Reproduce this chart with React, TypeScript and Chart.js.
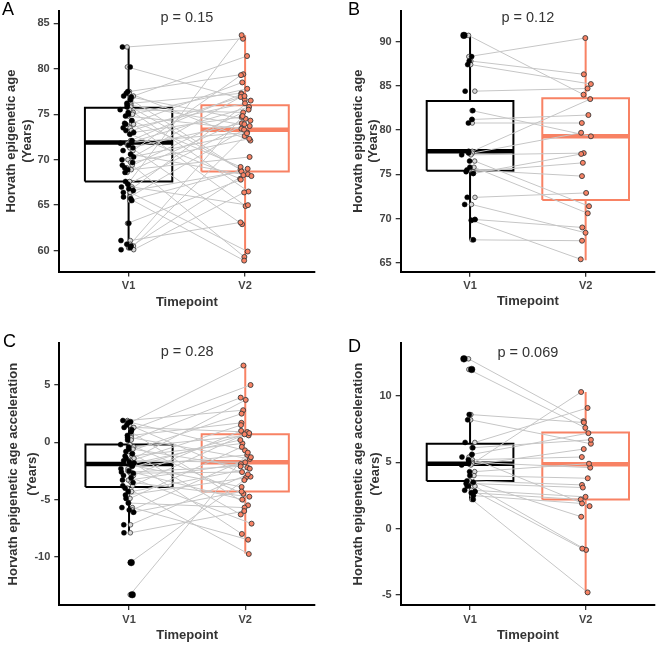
import React, { useEffect, useRef } from 'react';
import { Chart, registerables } from 'chart.js';
Chart.register(...registerables);

// ---------- data ----------
const categories = ['V1', 'V2'];
const pLabels = ['p = 0.15', 'p = 0.12', 'p = 0.28', 'p = 0.069'];
const panelLetters = ['A', 'B', 'C', 'D'];
const ageTitle = ['Horvath epigenetic age', '(Years)'];
const accelTitle = ['Horvath epigenetic age acceleration', '(Years)'];
const xTitle = 'Timepoint';

// Panel A: Horvath epigenetic age (paired V1 -> V2)
const aV1 = [82.4, 80.2, 77.5, 77.3, 77.0, 76.9, 76.6, 76.2, 76.0, 75.8, 75.5, 75.2, 75.0, 74.8, 74.3, 74.0, 73.9, 73.5, 73.0, 72.8, 72.1, 71.9, 71.8, 71.6, 71.3, 71.0, 70.6, 70.0, 69.7, 69.4, 69.1, 68.9, 68.6, 67.6, 67.3, 67.0, 66.8, 66.6, 66.4, 65.9, 65.7, 65.5, 63.0, 61.1, 60.7, 60.5, 60.3, 60.1, 73.2, 70.3];
const aV2 = [83.3, 76.6, 79.4, 72.1, 81.4, 74.3, 68.4, 77.3, 73.7, 68.9, 75.2, 66.5, 77.8, 73.4, 69.2, 78.5, 64.9, 76.2, 74.7, 67.9, 77.2, 73.0, 75.8, 62.9, 74.0, 79.3, 68.2, 76.9, 72.3, 59.3, 75.5, 70.3, 74.5, 83.7, 73.9, 65.0, 76.5, 68.7, 59.9, 73.3, 58.9, 69.0, 67.8, 63.1, 74.8, 72.6, 68.3, 66.4, 77.0, 72.9];
// box stats: [lower whisker, Q1, median, Q3, upper whisker]
const aBoxV1 = [60.1, 67.6, 71.9, 75.7, 82.4];
const aBoxV2 = [58.9, 68.7, 73.3, 76.0, 83.7];
const aTicks = [60, 65, 70, 75, 80, 85];
const aRange = [57.7, 86.4];

// Panel B
const bV1 = [90.7, 88.3, 87.8, 87.4, 84.4, 82.2, 81.2, 80.8, 77.6, 77.4, 77.2, 76.5, 75.8, 75.5, 75.1, 75.3, 72.4, 71.6, 69.9, 69.8, 67.6];
const bV2 = [84.0, 90.4, 86.3, 85.2, 84.7, 79.3, 81.7, 80.8, 83.5, 79.7, 77.4, 71.4, 70.6, 74.8, 77.3, 76.3, 72.9, 68.4, 69.0, 65.4, 67.5];
const bBoxV1 = [67.6, 75.4, 77.6, 83.3, 90.6];
const bBoxV2 = [65.3, 72.1, 79.3, 83.6, 90.3];
const bTicks = [65, 70, 75, 80, 85, 90];
const bRange = [64.0, 93.5];

// Panel C: age acceleration
const cV1 = [1.9, 1.8, 1.7, 1.5, 1.3, 1.1, 0.9, 0.6, 0.4, 0.2, -0.2, -0.4, -0.6, -0.8, -1.0, -1.2, -1.4, -1.6, -1.8, -1.9, -2.0, -2.1, -2.3, -2.5, -2.7, -2.9, -3.1, -3.3, -3.5, -3.8, -4.0, -4.3, -4.6, -4.9, -5.3, -5.7, -5.9, -6.1, -7.2, -7.9, -10.5, -13.3, -1.7, -2.6];
const cV2 = [2.8, -0.7, 6.7, -3.0, 0.9, 5.0, -5.5, 1.7, -1.45, 3.9, -4.5, 0.6, -2.2, 2.5, -6.3, -0.1, 3.7, -1.75, -8.0, 0.2, -3.9, -1.1, 0.8, -5.0, -2.6, 1.0, -7.1, -1.9, -4.75, 0.7, -9.75, -2.3, -3.1, -0.4, -5.7, -8.5, -1.3, -4.3, -2.8, -6.0, -3.3, -0.9, 1.5, -2.1];
const cBoxV1 = [-7.9, -3.9, -1.9, -0.2, 1.9];
const cBoxV2 = [-9.7, -4.3, -1.75, 0.7, 6.7];
const cTicks = [-10, -5, 0, 5];
const cRange = [-14.2, 8.64];

// Panel D
const dV1 = [12.8, 12.0, 8.6, 8.2, 6.5, 6.1, 5.6, 5.2, 5.0, 4.9, 4.8, 4.3, 4.0, 3.6, 3.5, 3.4, 3.2, 2.9, 2.8, 2.7, 2.5, 2.2, 5.4];
const dV2 = [8.1, 7.6, 8.0, 6.4, 9.1, 6.7, 7.2, 5.4, 4.6, 10.3, 6.0, 4.9, 3.8, 3.3, 0.9, 3.1, -1.6, 2.4, -1.5, 2.2, 1.9, -4.8, 1.7];
const dBoxV1 = [2.2, 3.6, 4.9, 6.4, 8.6];
const dBoxV2 = [-4.8, 2.2, 4.85, 7.25, 10.3];
const dTicks = [-5, 0, 5, 10];
const dRange = [-5.75, 13.97];

// ---------- styles / layout ----------
const FONT = '"Liberation Sans", Arial, Helvetica, sans-serif';
const SALMON = '#F88264';
const BOX_HALF = 0.375;

type Lay = {
  left: number; top: number; w: number; h: number;
  yW: number; padR: number; padT: number; xH: number;
  xTitlePad: number; yTitleLH: number; yTitlePad: number;
  letterX: number; letterY: number; pY: number;
};

const panels = [
  { v1: aV1, v2: aV2, box1: aBoxV1, box2: aBoxV2, ticks: aTicks, range: aRange, yTitle: ageTitle, p: pLabels[0], letter: panelLetters[0],
    L: { left: 0, top: 0, w: 330, h: 320, yW: 58.7, padR: 15, padT: 5, xH: 48.5, xTitlePad: 10.2, yTitleLH: 16, yTitlePad: 3.5, letterX: 2, letterY: 15, pY: 18 } as Lay },
  { v1: bV1, v2: bV2, box1: bBoxV1, box2: bBoxV2, ticks: bTicks, range: bRange, yTitle: ageTitle, p: pLabels[1], letter: panelLetters[1],
    L: { left: 330, top: 0, w: 330, h: 320, yW: 70.7, padR: 5, padT: 10, xH: 48.3, xTitlePad: 10.5, yTitleLH: 15, yTitlePad: 20.8, letterX: 18, letterY: 15, pY: 18.3 } as Lay },
  { v1: cV1, v2: cV2, box1: cBoxV1, box2: cBoxV2, ticks: cTicks, range: cRange, yTitle: accelTitle, p: pLabels[2], letter: panelLetters[2],
    L: { left: 0, top: 320, w: 330, h: 325, yW: 59.3, padR: 15, padT: 23.3, xH: 40, xTitlePad: 2.2, yTitleLH: 19, yTitlePad: 3.8, letterX: 3, letterY: 26.5, pY: 31.7 } as Lay },
  { v1: dV1, v2: dV2, box1: dBoxV1, box2: dBoxV2, ticks: dTicks, range: dRange, yTitle: accelTitle, p: pLabels[3], letter: panelLetters[3],
    L: { left: 330, top: 320, w: 330, h: 325, yW: 70.7, padR: 5, padT: 23.3, xH: 40, xTitlePad: 2.2, yTitleLH: 17, yTitlePad: 19.8, letterX: 18, letterY: 31.7, pY: 33 } as Lay },
];

// deterministic horizontal jitter (position only)
const hash = (i: number, s: number) => {
  const h = Math.sin(i * 12.9898 + s * 78.233) * 43758.5453;
  return h - Math.floor(h);
};
const blackJ = (i: number) => -0.075 + 0.12 * hash(i, 1);
const pairJ = (i: number) => -0.015 + 0.06 * hash(i, 2);
const v2J = (i: number) => -0.045 + 0.1 * hash(i, 3);

function boxSets(c: number, s: number[], color: string) {
  const [lo, q1, med, q3, hi] = s;
  const base = { showLine: true, pointRadius: 0, pointHoverRadius: 0, borderColor: color, fill: false, order: 6, borderJoinStyle: 'miter' as const };
  return [
    { ...base, borderWidth: 2, data: [{ x: c - BOX_HALF, y: q1 }, { x: c + BOX_HALF, y: q1 }, { x: c + BOX_HALF, y: q3 }, { x: c - BOX_HALF, y: q3 }, { x: c - BOX_HALF, y: q1 }] },
    { ...base, borderWidth: 4.5, data: [{ x: c - BOX_HALF, y: med }, { x: c + BOX_HALF, y: med }] },
    { ...base, borderWidth: 2, data: [{ x: c, y: lo }, { x: c, y: q1 }] },
    { ...base, borderWidth: 2, data: [{ x: c, y: q3 }, { x: c, y: hi }] },
  ];
}

function buildDatasets(p: typeof panels[number]) {
  const lineData: any[] = [];
  p.v1.forEach((a, i) => {
    lineData.push({ x: 1 + pairJ(i), y: a }, { x: 2 + v2J(i), y: p.v2[i] }, { x: 1.5, y: null });
  });
  const out1 = (v: number) => v < p.box1[0] - 0.05 || v > p.box1[4] + 0.05;
  return [
    ...boxSets(1, p.box1, '#000'),
    ...boxSets(2, p.box2, SALMON),
    { data: lineData, showLine: true, spanGaps: false, borderColor: '#C6C6C6', borderWidth: 1, pointRadius: 0, pointHoverRadius: 0, order: 4 },
    { data: p.v1.map((a, i) => ({ x: 1 + pairJ(i), y: a })), pointRadius: 2.3, backgroundColor: '#D8D8D8', borderColor: '#3a3a3a', borderWidth: 0.8, order: 3 },
    { data: p.v1.map((a, i) => ({ x: 1 + blackJ(i), y: a })), pointRadius: p.v1.map((a) => (out1(a) ? 3.3 : 2.5)), backgroundColor: '#000', borderColor: '#000', borderWidth: 0.5, order: 2 },
    { data: p.v2.map((b, i) => ({ x: 2 + v2J(i), y: b })), pointRadius: 2.5, backgroundColor: SALMON, borderColor: '#3a3a3a', borderWidth: 0.9, order: 1 },
  ];
}

function Panel({ p }: { p: typeof panels[number] }) {
  const ref = useRef<HTMLCanvasElement>(null);
  useEffect(() => {
    const L = p.L;
    const annot = {
      id: 'annot',
      afterDraw(chart: any) {
        const ctx = chart.ctx;
        ctx.save();
        ctx.fillStyle = '#000';
        ctx.font = `18px ${FONT}`;
        ctx.textAlign = 'left';
        ctx.textBaseline = 'alphabetic';
        ctx.fillText(p.letter, L.letterX, L.letterY);
        ctx.fillStyle = '#333';
        ctx.font = `14.5px ${FONT}`;
        ctx.textAlign = 'center';
        ctx.textBaseline = 'middle';
        ctx.fillText(p.p, chart.scales.x.getPixelForValue(1.5), L.pY);
        ctx.restore();
      },
    };
    const tickFont = { family: FONT, size: 11, weight: 'bold' as const };
    const chart = new Chart(ref.current!, {
      type: 'scatter',
      data: { datasets: buildDatasets(p) as any },
      plugins: [annot],
      options: {
        responsive: false,
        animation: false,
        events: [],
        layout: { padding: { left: 0, right: L.padR, top: L.padT, bottom: 0 } },
        plugins: { legend: { display: false }, tooltip: { enabled: false } },
        scales: {
          x: {
            type: 'linear', min: 0.4, max: 2.6,
            afterBuildTicks: (s: any) => { s.ticks = [{ value: 1 }, { value: 2 }]; },
            afterFit: (s: any) => { s.height = L.xH; },
            ticks: { callback: (v: any) => categories[Math.round(v) - 1], font: tickFont, color: '#444', padding: 3, autoSkip: false, maxRotation: 0 },
            grid: { drawOnChartArea: false, drawTicks: true, tickLength: 5, color: '#333', lineWidth: 1.3 },
            border: { display: true, color: '#000', width: 2 },
            title: { display: true, text: xTitle, color: '#333', font: { family: FONT, size: 13, weight: 'bold', lineHeight: 1.2 }, padding: { top: 0, bottom: L.xTitlePad } },
          },
          y: {
            type: 'linear', min: p.range[0], max: p.range[1],
            afterBuildTicks: (s: any) => { s.ticks = p.ticks.map((v) => ({ value: v })); },
            afterFit: (s: any) => { s.width = L.yW; },
            ticks: { callback: (v: any) => String(v), font: tickFont, color: '#444', padding: 4 },
            grid: { drawOnChartArea: false, drawTicks: true, tickLength: 5, color: '#333', lineWidth: 1.3 },
            border: { display: true, color: '#000', width: 2 },
            title: { display: true, text: p.yTitle, color: '#333', font: { family: FONT, size: 13, weight: 'bold', lineHeight: `${L.yTitleLH}px` }, padding: { top: L.yTitlePad, bottom: 0 } },
          },
        },
      } as any,
    });
    return () => chart.destroy();
  }, []);
  return (
    <canvas
      ref={ref}
      width={p.L.w}
      height={p.L.h}
      style={{ position: 'absolute', left: p.L.left, top: p.L.top, width: p.L.w, height: p.L.h }}
    />
  );
}

export default function App() {
  return (
    <div style={{ position: 'absolute', left: 0, top: 0, width: 660, height: 645, background: '#fff', overflow: 'hidden' }}>
      {panels.map((p, i) => <Panel key={i} p={p} />)}
    </div>
  );
}
